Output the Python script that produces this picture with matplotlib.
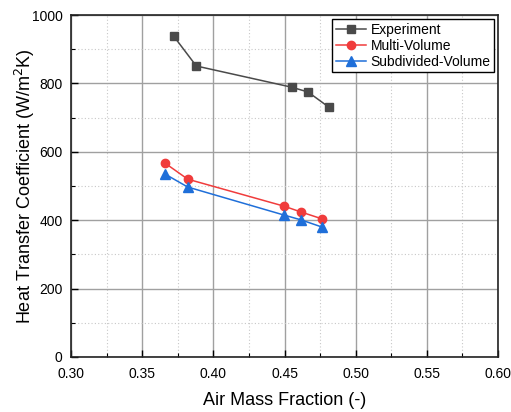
import matplotlib
matplotlib.use("Agg")
import matplotlib.pyplot as plt
from matplotlib.ticker import MultipleLocator

plt.rcParams['font.family'] = ['Liberation Sans', 'DejaVu Sans']

# data
exp_x = [0.372, 0.388, 0.455, 0.4665, 0.481]
exp_y = [939, 851, 789, 775, 731]
multi_x = [0.366, 0.382, 0.4497, 0.4616, 0.4763]
multi_y = [567, 520, 441, 424, 404]
sub_x = [0.366, 0.382, 0.4497, 0.4616, 0.4763]
sub_y = [535, 497, 415, 401, 380]

fig = plt.figure(figsize=(5.11, 4.12), dpi=100)
ax = fig.add_axes([0.139, 0.1335, 0.8356, 0.830])

ax.plot(exp_x, exp_y, color='#4a4a4a', marker='s', markersize=6, lw=1.1, label='Experiment', zorder=3)
ax.plot(multi_x, multi_y, color='#f03c3c', marker='o', markersize=6, lw=1.1, label='Multi-Volume', zorder=3)
ax.plot(sub_x, sub_y, color='#1f6fd9', marker='^', markersize=7, lw=1.1, label='Subdivided-Volume', zorder=3)

ax.set_xlim(0.30, 0.60)
ax.set_ylim(0, 1000)
ax.xaxis.set_major_locator(MultipleLocator(0.05))
ax.xaxis.set_minor_locator(MultipleLocator(0.025))
ax.yaxis.set_major_locator(MultipleLocator(200))
ax.yaxis.set_minor_locator(MultipleLocator(100))
ax.set_xticklabels([f'{v:.2f}' for v in ax.get_xticks()])

ax.grid(which='major', color='#a0a0a0', lw=1.0)
ax.grid(which='minor', color='#c8c8c8', lw=0.8, ls=(0, (1, 2)))
ax.set_axisbelow(True)

ax.tick_params(which='both', direction='in', labelsize=10)
ax.tick_params(which='major', length=5, width=1)
ax.tick_params(which='minor', length=3, width=0.8)
ax.tick_params(axis='x', which='major', pad=7)
ax.tick_params(axis='y', which='major', pad=6)
for s in ax.spines.values():
    s.set_linewidth(1.2)
    s.set_color('#222222')

ax.set_xlabel('Air Mass Fraction (-)', fontsize=13, labelpad=8)
ax.set_ylabel('Heat Transfer Coefficient (W/m$^2$K)', fontsize=13, labelpad=-4)

leg = ax.legend(loc='upper right', fontsize=10, fancybox=False, edgecolor='black',
                framealpha=1, handlelength=2.2, borderpad=0.25, labelspacing=0.15,
                handletextpad=0.3, borderaxespad=0.3)
leg.get_frame().set_linewidth(1.0)

fig.savefig('out.png', dpi=100)
